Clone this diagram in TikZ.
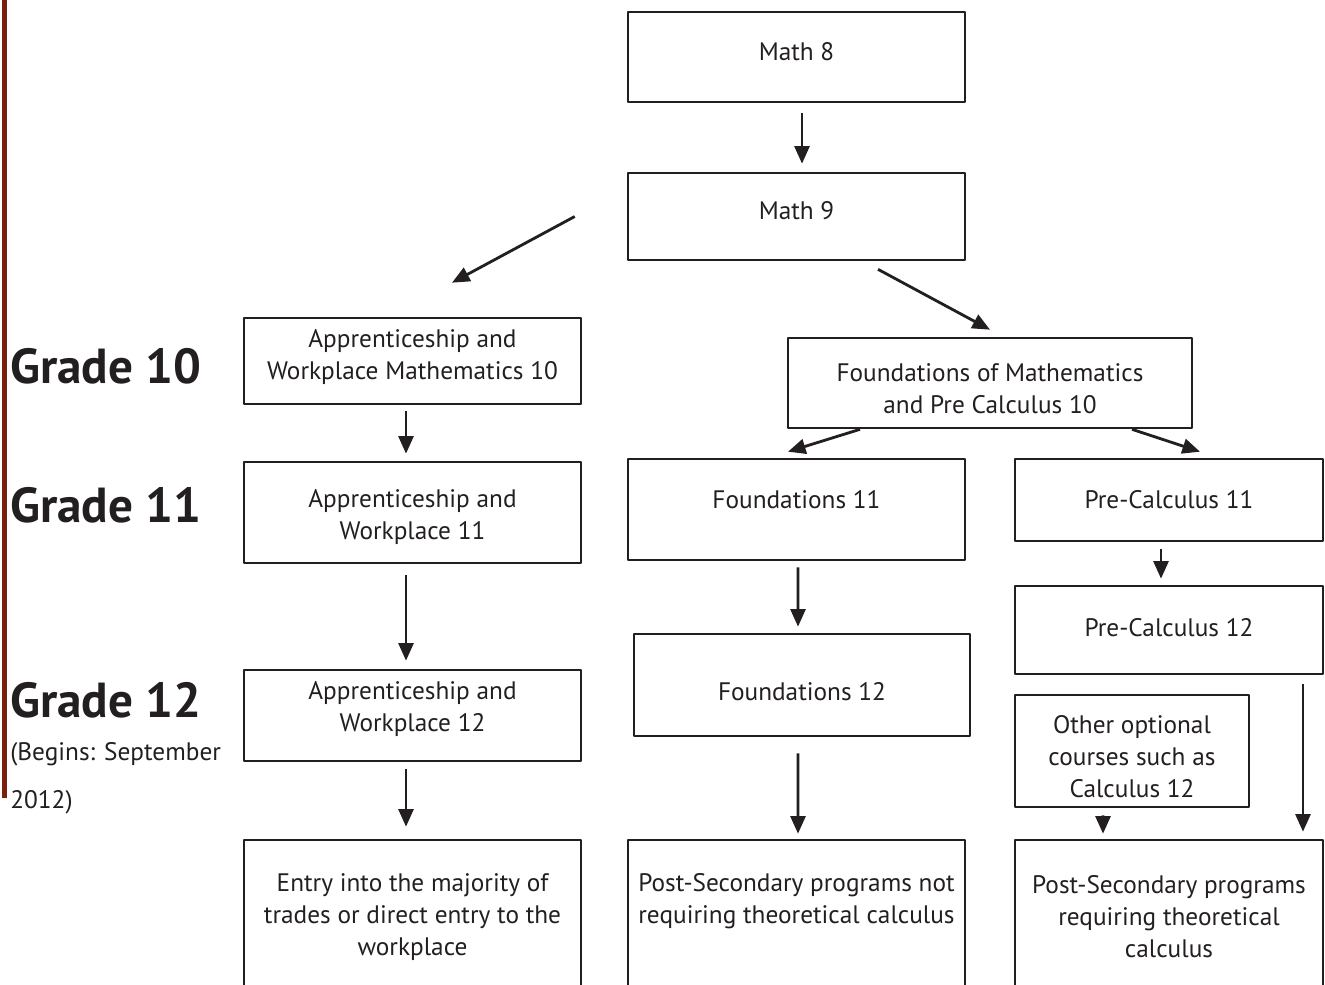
\documentclass[tikz,border=0pt]{standalone}
\usepackage{fontspec}
\setmainfont{PT Sans}
\usetikzlibrary{arrows.meta,positioning}
\definecolor{barred}{HTML}{7A1E0E}
\definecolor{ink}{HTML}{231F20}
\tikzset{
	box/.style={draw=ink, line width=1.5pt, inner sep=0pt},
	txt/.style={align=center, text=ink, font=\fontsize{14.4}{18.2}\selectfont, inner sep=0pt},
	grade/.style={anchor=base west, text=ink, font=\fontsize{28}{30}\bfseries\selectfont, inner sep=0pt},
	note/.style={anchor=base west, text=ink, font=\fontsize{14.4}{18}\selectfont, inner sep=0pt},
	arr/.style={draw=ink, -{Triangle[length=10pt,width=8.5pt]}, line width=1.6pt},
}
\begin{document}
\begin{tikzpicture}[x=0.02cm, y=-0.02cm, line join=round]
	\clip (0,0) rectangle (1325,984);
	\fill[barred] (2,0) rectangle (7,798);
	% grade labels
	\node[grade] (g10) at (10,383) {Grade 10};
	\node[grade] (g11) at (10,522) {Grade 11};
	\node[grade] (g12) at (10,717) {Grade 12};
	\node[note] (begins) at (10,760) {(Begins: September};
	\node[note] (year) at (10,808) {2012)};
	% course boxes
	\node[box, minimum width=6.74cm, minimum height=1.8cm] (m8) at (796.5,57) {};
	\node[box, minimum width=6.74cm, minimum height=1.74cm] (m9) at (796.5,216.5) {};
	\node[box, minimum width=6.74cm, minimum height=1.72cm] (aw10) at (412.5,361) {};
	\node[box, minimum width=8.08cm, minimum height=1.8cm] (fpc10) at (990,383) {};
	\node[box, minimum width=6.74cm, minimum height=2.02cm] (aw11) at (412.5,512.5) {};
	\node[box, minimum width=6.74cm, minimum height=2.02cm] (f11) at (796.5,509.5) {};
	\node[box, minimum width=6.16cm, minimum height=1.64cm] (pc11) at (1169,500) {};
	\node[box, minimum width=6.16cm, minimum height=1.76cm] (pc12) at (1169,630) {};
	\node[box, minimum width=6.74cm, minimum height=1.82cm] (aw12) at (412.5,715.5) {};
	\node[box, minimum width=6.72cm, minimum height=2.04cm] (f12) at (802,685) {};
	\node[box, minimum width=4.68cm, minimum height=2.24cm] (opt) at (1132,751) {};
	\node[box, minimum width=6.74cm, minimum height=3.2cm] (work) at (412.5,920) {};
	\node[box, minimum width=6.74cm, minimum height=3.2cm] (nocalc) at (796.5,920) {};
	\node[box, minimum width=6.16cm, minimum height=3.2cm] (calc) at (1169,920) {};
	% box texts
	\node[txt] (tm8) at (796.5,52) {Math 8};
	\node[txt] (tm9) at (796.5,211) {Math 9};
	\node[txt] (taw10) at (412.5,357) {Apprenticeship and\\Workplace Mathematics 10};
	\node[txt] (tfpc10) at (990,389) {Foundations of Mathematics\\and Pre Calculus 10};
	\node[txt] (taw11) at (412.5,517) {Apprenticeship and\\Workplace 11};
	\node[txt] (tf11) at (796.5,500) {Foundations 11};
	\node[txt] (tpc11) at (1169,500) {Pre-Calculus 11};
	\node[txt] (tpc12) at (1169,628) {Pre-Calculus 12};
	\node[txt] (taw12) at (412.5,709) {Apprenticeship and\\Workplace 12};
	\node[txt] (tf12) at (802,692) {Foundations 12};
	\node[txt] (topt) at (1132,757) {Other optional\\courses such as\\Calculus 12};
	\node[txt] (twork) at (412.5,917) {Entry into the majority of\\trades or direct entry to the\\workplace};
	\node[txt] (tnocalc) at (796.5,901) {Post-Secondary programs not\\requiring theoretical calculus};
	\node[txt] (tcalc) at (1169,917) {Post-Secondary programs\\requiring theoretical\\calculus};
	% arrows
	\draw[arr, shorten <=0.2cm, shorten >=0.16cm] ([xshift=0.11cm]m8.south) -- ([xshift=0.11cm]m9.north);
	\draw[arr] ([xshift=-1.04cm]m9.west) -- ([xshift=0.79cm, yshift=0.68cm]aw10.north);
	\draw[arr] ([xshift=1.63cm, yshift=-0.16cm]m9.south) -- ([yshift=0.14cm]fpc10.north);
	\draw[arr] ([xshift=-2.6cm]fpc10.south) -- ([xshift=-0.17cm, yshift=0.12cm]f11.north);
	\draw[arr] ([xshift=2.84cm]fpc10.south) -- ([xshift=0.62cm, yshift=0.12cm]pc11.north);
	\draw[arr, shorten <=0.12cm, shorten >=0.14cm] ([xshift=-0.13cm]aw10.south) -- ([xshift=-0.13cm]aw11.north);
	\draw[arr, shorten <=0.22cm, shorten >=0.16cm] ([xshift=-0.13cm]aw11.south) -- ([xshift=-0.13cm]aw12.north);
	\draw[arr, shorten <=0.14cm, shorten >=0.24cm] ([xshift=-0.13cm]aw12.south) -- ([xshift=-0.13cm]work.north);
	\draw[arr, shorten <=0.12cm, shorten >=0.12cm] ([xshift=0.03cm]f11.south) -- ([xshift=-0.08cm]f12.north);
	\draw[arr, shorten <=0.32cm, shorten >=0.1cm] ([xshift=-0.08cm]f12.south) -- ([xshift=0.03cm]nocalc.north);
	\draw[arr, shorten <=0.14cm, shorten >=0.12cm] ([xshift=-0.16cm]pc11.south) -- ([xshift=-0.16cm]pc12.north);
	\draw[arr, shorten <=0.18cm, shorten >=0.14cm] ([xshift=2.68cm]pc12.south) -- ([xshift=2.68cm]calc.north);
	\draw[arr, shorten <=0.14cm, shorten >=0.1cm] ([xshift=-0.58cm]opt.south) -- ([xshift=-1.32cm]calc.north);
\end{tikzpicture}
\end{document}
